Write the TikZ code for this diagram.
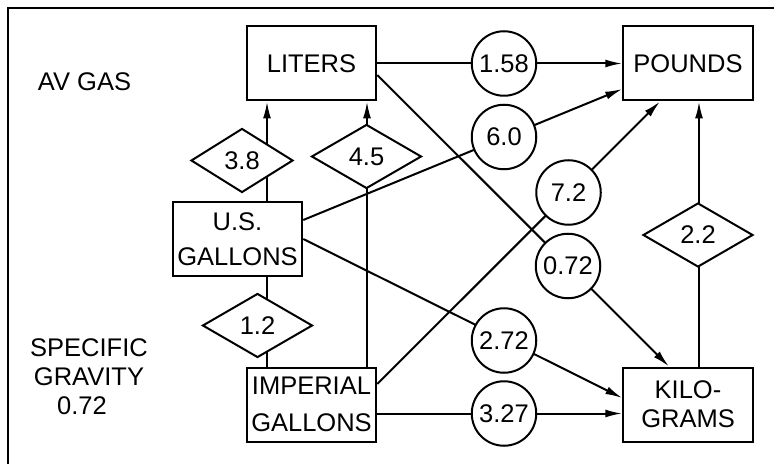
\documentclass[tikz,border=0pt]{standalone}
\usepackage{fontspec}
\setmainfont{Liberation Sans}
\usepackage{tikz}
\usetikzlibrary{positioning, arrows.meta, shapes.geometric}

\begin{document}
\begin{tikzpicture}[x=0.5pt, y=-0.5pt, line width=1pt,
        font=\fontsize{12.75}{14.5}\selectfont,
        >={Latex[length=8.5pt, width=4pt]},
        unitbox/.style={shape=rectangle, draw=black, align=center, inner sep=1pt,
            minimum width=64.75pt, minimum height=37pt},
        ratio/.style={shape=circle, draw=black, fill=white, inner sep=0pt, minimum size=32.25pt},
        factor/.style={shape=diamond, draw=black, fill=white, inner sep=0pt, aspect=1.7,
            minimum width=55pt, minimum height=32pt}]
            \useasboundingbox (0,0) rectangle (774,464);
            \draw (7.5,464) -- (7.5,8.5) -- (774,8.5);

            \node (avgas) at (84.5,82) {AV GAS};
            \node[align=center] (sg) at (89,377) {SPECIFIC\\GRAVITY\\0.72\hspace*{7pt}};

            \node[unitbox] (LIT) at (311.5,63.5) {LITERS};
            \node[unitbox] (LB) at (688,63.5) {POUNDS};
            \node[unitbox] (USG) at (237.5,239) {U.S.\\[3pt]GALLONS};
            \node[unitbox] (IMP) at (311.5,404.5) {IMPERIAL\\[4pt]GALLONS};
            \node[unitbox] (KG) at (688,404.5) {KILO-\\GRAMS};

            \draw [->] (LIT) -- (LB);
            \draw [->] ([yshift=9.5pt]USG.east) -- ([yshift=-12.75pt]LB.west);
            \draw [->] ([yshift=10.25pt]IMP.east) -- ([xshift=-14pt]LB.south);
            \draw [->] ([yshift=-5.75pt]LIT.east) -- ([xshift=-9.5pt]KG.north);
            \draw [->] (USG.east) -- ([yshift=3.25pt]KG.west);
            \draw [->] ([yshift=-4.5pt]IMP.east) -- ([yshift=-4.5pt]KG.west);
            \draw [->] ([xshift=14.75pt]USG.north) -- ([xshift=14.75pt]USG.north |- LIT.south);
            \draw [->] ([xshift=27.75pt]IMP.north) -- ([xshift=27.75pt]IMP.north |- LIT.south);
            \draw ([xshift=14.75pt]USG.south) -- ([xshift=14.75pt]USG.south |- IMP.north);
            \draw [->] ([xshift=5.5pt]KG.north) -- ([xshift=5.5pt]KG.north |- LB.south);

            \node[ratio] (c158) at (504,63.5) {1.58};
            \node[ratio] (c60) at (504,137) {6.0};
            \node[ratio] (c72) at (568.5,192.5) {7.2};
            \node[ratio] (c072) at (568,266) {0.72};
            \node[ratio] (c272) at (504,340.5) {2.72};
            \node[ratio] (c327) at (504,413.5) {3.27};

            \node[factor, minimum width=51pt] (d38) at (242,160.5) {3.8};
            \node[factor] (d45) at (366.5,156.5) {4.5};
            \node[factor] (d12) at (257.5,325.5) {1.2};
            \node[factor] (d22) at (698,235) {2.2};
        \end{tikzpicture}
\end{document}
